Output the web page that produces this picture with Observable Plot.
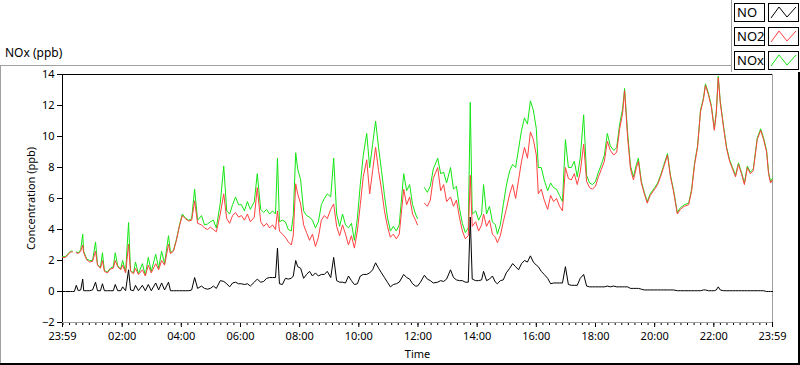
<!DOCTYPE html>
<html><head><meta charset="utf-8">
<script src="https://cdn.jsdelivr.net/npm/d3@7"></script>
<script src="https://cdn.jsdelivr.net/npm/@observablehq/plot@0.6"></script>
<style>
html,body{margin:0;padding:0;background:#fff;width:800px;height:365px;overflow:hidden}
#wrap{position:relative;width:800px;height:365px;font-family:"Noto Sans",sans-serif;font-size:12px;color:#000}
#chart{position:absolute;left:0;top:0}
.abs{position:absolute}
.title{left:5px;top:44px;font-size:12px}
.lbox{position:absolute;border:1px solid #000;background:#fff;box-sizing:border-box;height:19px;font-size:13px;line-height:17px;padding-left:2px}
.sbox{position:absolute;border:1px solid #000;background:#fff;box-sizing:border-box;height:19px;width:31px}
</style></head>
<body><div id="wrap"></div>
<script>
// time in minutes after 23:59 (start of the record)
const minutes = [0,6,16,20,24,28,32,37,41,43,49,55,61,67,71,77,81,85,91,97,103,107,112,118,122,128,134,138,144,148,154,162,168,174,180,189,195,201,207,215,219,225,231,237,243,249,256,262,268,274,282,288,294,300,306,312,320,327,333,339,345,351,357,363,369,375,381,389,395,402,408,414,420,426,432,436,440,446,452,458,464,468,473,477,483,489,495,501,507,513,519,525,531,537,544,550,556,562,568,574,580,586,592,598,604,610,617,623,629,635,641,647,653,659,665,671,677,683,692,698,704,710,716,720,726,734,740,746,752,761,767,773,779,787,793,799,805,811,817,823,827,831,838,844,850,854,860,866,872,878,882,888,894,900,907,913,919,925,931,937,943,949,955,961,965,971,977,984,990,996,1002,1008,1014,1020,1026,1032,1038,1044,1050,1057,1063,1069,1075,1081,1087,1093,1099,1105,1111,1118,1124,1130,1136,1140,1146,1152,1158,1164,1168,1174,1180,1186,1192,1201,1207,1213,1219,1227,1233,1239,1247,1253,1261,1270,1276,1282,1288,1294,1300,1304,1310,1316,1322,1326,1330,1334,1341,1347,1353,1359,1365,1371,1377,1383,1389,1395,1401,1409,1416,1422,1428,1432,1436,1440];
const no2 = [2.2,2.2,2.55,2.55,null,2.5,2.45,2.6,3.0,2.5,2.05,1.9,1.95,2.6,1.7,1.5,2.0,1.3,1.2,1.45,1.5,2.0,1.6,1.4,1.7,1.2,3.05,1.3,1.15,1.5,1.1,1.4,1.0,1.7,1.2,1.8,1.4,2.0,1.7,3.05,2.45,2.6,3.3,4.2,4.9,4.7,4.55,4.6,5.85,4.4,4.3,4.1,4.0,4.15,4.0,3.85,5.0,6.3,4.7,4.4,4.9,5.1,4.8,4.9,4.6,5.0,4.5,4.8,6.7,4.5,4.2,4.4,4.1,4.3,4.0,5.2,3.9,3.7,3.5,3.2,3.0,3.6,6.95,6.3,5.65,4.3,3.8,3.3,3.7,2.9,3.5,4.6,4.9,4.7,5.3,5.65,4.2,3.6,4.3,3.7,3.0,3.6,2.8,3.9,5.6,7.4,8.5,6.3,7.8,9.3,7.8,6.6,5.2,4.2,3.5,3.7,3.4,3.7,6.6,5.6,6.1,5.0,4.6,4.3,null,5.7,5.5,5.9,7.3,8.0,6.5,6.9,5.8,6.1,5.5,5.9,4.8,3.9,3.4,3.6,7.5,4.2,4.5,3.9,4.3,5.0,4.2,4.6,3.7,3.5,3.15,3.6,4.5,5.3,6.3,6.9,6.0,7.2,8.4,9.3,8.6,10.3,9.8,8.8,6.3,6.6,5.9,5.3,6.2,5.8,6.0,5.5,5.2,8.0,7.3,7.2,7.6,6.9,7.7,9.5,7.1,6.7,6.6,6.8,7.4,7.9,8.4,9.7,9.1,8.8,9.0,10.5,11.5,12.95,10.0,7.9,7.2,8.0,8.4,7.0,6.3,5.7,6.2,6.6,6.9,7.4,8.0,8.8,7.4,6.5,5.0,5.3,5.5,5.6,6.5,8.2,9.3,11.6,12.4,13.3,12.7,11.9,10.4,11.5,13.8,12.2,10.5,9.2,8.4,7.9,7.4,8.2,7.6,6.9,8.0,7.6,7.8,9.8,10.4,9.8,9.0,7.6,7.0,7.2];
const nox = [2.25,2.25,2.6,2.6,null,2.55,2.5,2.7,3.7,2.6,2.1,2.0,2.0,3.2,1.75,1.55,2.5,1.35,1.25,1.5,1.6,2.5,1.65,1.45,2.0,1.25,4.45,1.35,1.2,1.9,1.15,1.8,1.05,2.2,1.3,2.4,1.5,2.6,1.8,3.6,2.5,2.65,3.35,4.25,5.0,4.75,4.6,4.7,6.6,4.6,4.9,4.3,4.35,4.5,4.6,4.1,5.7,8.1,5.2,5.0,5.6,6.1,5.6,5.6,5.2,5.8,5.3,5.8,7.6,5.3,5.1,5.3,5.0,5.2,5.0,8.6,4.5,4.6,4.5,4.0,3.9,4.9,8.95,7.9,7.2,5.2,4.9,4.8,4.6,4.1,4.5,5.6,6.0,6.3,6.1,8.6,5.0,4.2,5.0,4.3,4.1,4.4,3.3,4.7,6.9,8.8,10.2,8.0,9.5,11.0,9.3,7.8,6.2,4.8,3.9,4.2,3.9,4.3,7.6,6.5,6.9,5.6,5.0,4.7,null,6.7,6.4,6.8,7.9,8.6,7.6,7.7,7.0,8.0,6.6,6.8,5.4,4.4,3.8,4.1,12.2,5.0,5.2,4.6,5.0,6.9,5.0,5.5,4.5,4.3,3.7,4.3,5.6,6.8,7.8,8.2,8.0,9.2,10.4,11.2,10.8,12.3,11.7,10.5,8.0,8.0,7.2,6.5,7.0,6.7,6.6,6.2,5.8,9.8,8.0,8.0,8.4,7.4,8.6,11.4,7.5,7.0,6.9,7.1,7.7,8.2,8.8,10.2,9.4,9.1,9.3,10.8,11.8,13.1,10.3,8.1,7.4,8.2,8.6,7.1,6.4,5.8,6.3,6.7,7.0,7.5,8.1,8.9,7.5,6.6,5.1,5.4,5.6,5.7,6.6,8.3,9.4,11.7,12.5,13.4,12.8,12.0,10.5,11.6,13.9,12.3,10.6,9.3,8.5,8.0,7.5,8.3,7.7,7.0,8.1,7.7,7.9,9.9,10.5,9.9,9.1,7.7,7.1,7.3];
const no = [0,0,0,0,0,0.4,0.05,0.1,0.8,0.05,0.05,0.05,0.1,0.6,0.05,0.05,0.5,0.05,0.05,0.05,0.05,0.45,0.05,0.05,0.3,0.05,1.4,0.1,0.05,0.4,0.05,0.4,0.05,0.45,0.05,0.55,0.1,0.55,0.1,0.6,0.05,0.05,0.05,0.05,0.05,0.05,0.05,0.1,0.9,0.2,0.35,0.2,0.15,0.2,0.35,0.2,0.7,0.65,0.5,0.3,0.55,0.6,0.5,0.5,0.45,0.5,0.35,0.6,0.8,0.6,0.65,0.85,0.9,0.9,0.9,2.8,0.5,0.45,0.85,0.8,0.85,1.0,2.0,1.6,1.5,0.85,1.1,1.3,1.0,1.2,1.0,1.1,1.1,1.3,0.9,2.2,0.7,0.6,0.6,0.55,1.0,0.7,0.45,0.5,1.0,1.1,1.1,1.2,1.4,1.85,1.5,1.2,0.9,0.6,0.3,0.45,0.5,0.6,1.1,0.9,0.8,0.5,0.35,0.35,0.6,1.05,0.8,0.7,0.55,0.6,0.7,0.65,0.8,1.4,0.9,0.75,0.7,0.7,0.6,0.6,4.8,0.8,0.7,0.7,0.75,1.3,0.7,0.8,1.0,0.6,0.5,0.7,0.75,1.2,1.5,1.8,1.6,1.4,1.8,2.0,1.9,2.3,1.9,1.7,1.6,1.3,1.1,0.85,0.5,0.55,0.55,0.55,0.55,1.6,0.45,0.4,0.4,0.4,0.85,1.1,0.35,0.3,0.3,0.3,0.3,0.3,0.3,0.35,0.3,0.35,0.3,0.3,0.3,0.3,0.3,0.2,0.2,0.2,0.2,0.15,0.1,0.1,0.1,0.1,0.1,0.1,0.1,0.1,0.1,0.1,0.05,0.05,0.05,0.05,0.05,0.05,0.05,0.05,0.1,0.1,0.05,0.05,0.05,0.1,0.3,0.1,0.05,0.05,0.05,0.05,0.05,0.05,0.05,0.05,0.05,0.05,0.05,0.05,0.05,0.05,0,0,0,0];
const xTickMinutes = [0,121,241,361,481,601,721,841,961,1081,1201,1321,1440];
const xTickLabels = ["23:59","02:00","04:00","06:00","08:00","10:00","12:00","14:00","16:00","18:00","20:00","22:00","23:59"];
const yTicks = [-2,0,2,4,6,8,10,12,14];
const seriesNames = ["NO","NO2","NOx"];
const seriesColors = ["#000000","#ff4040","#14e614"];

const rows = minutes.map((m, i) => ({m, no: no[i], no2: no2[i], nox: nox[i]}));
const minorTicks = d3.range(1, 1440, 120 / 9);

const chart = Plot.plot({
  width: 800, height: 365,
  marginLeft: 62, marginRight: 28, marginTop: 74, marginBottom: 43,
  style: {fontFamily: '"Noto Sans", sans-serif', fontSize: "11px", color: "#000", background: "transparent", overflow: "visible"},
  x: {domain: [0, 1440]},
  y: {domain: [-2, 14]},
  marks: [
    Plot.axisX({ticks: minorTicks, tickSize: 3, tickFormat: () => "", label: null, stroke: "#000"}),
    Plot.axisX({ticks: xTickMinutes, tickSize: 5, tickPadding: 5, tickFormat: d => xTickLabels[xTickMinutes.indexOf(d)], label: "Time", labelAnchor: "center", labelOffset: 35, labelArrow: "none", fill: "#000"}),
    Plot.axisY({ticks: yTicks, tickSize: 5, tickPadding: 3, label: "Concentration (ppb)", labelAnchor: "center", labelOffset: 35, labelArrow: "none", fill: "#000"}),
    Plot.ruleX([1440], {stroke: "#a0a0a0"}),
    Plot.ruleY([-2], {stroke: "#a0a0a0"}),
    Plot.ruleY([14], {stroke: "#000"}),
    Plot.ruleX([0], {stroke: "#000"}),
    Plot.lineY(rows, {x: "m", y: "nox", stroke: seriesColors[2], strokeWidth: 1}),
    Plot.lineY(rows, {x: "m", y: "no2", stroke: seriesColors[1], strokeWidth: 1}),
    Plot.lineY(rows, {x: "m", y: "no", stroke: seriesColors[0], strokeWidth: 1})
  ]
});
chart.id = "chart";
const wrap = document.getElementById("wrap");
wrap.appendChild(chart);

function add(html){ wrap.insertAdjacentHTML("beforeend", html); }
// outer graph frame
add('<div class="abs" style="left:0;top:65px;width:731px;height:1px;background:#a0a0a0"></div>');
add('<div class="abs" style="left:0;top:65px;width:1px;height:298px;background:#a0a0a0"></div>');
add('<div class="abs" style="left:0;top:363px;width:800px;height:2px;background:#000"></div>');
add('<div class="abs" style="left:798px;top:72px;width:2px;height:293px;background:#000"></div>');
add('<div class="abs" style="left:731px;top:0;width:1px;height:72px;background:#a0a0a0"></div>');
add('<div class="abs title">NOx (ppb)</div>');
// legend
seriesNames.forEach((n, i) => {
  const top = 3 + i * 24;
  add(`<div class="lbox" style="left:734px;top:${top}px;width:31px">${n}</div>`);
  add(`<div class="sbox" style="left:768px;top:${top}px"><svg width="29" height="17"><polyline points="2,14 10,3 18,13 27,3" fill="none" stroke="${seriesColors[i]}" stroke-width="1"/></svg></div>`);
});
</script>
</body></html>
